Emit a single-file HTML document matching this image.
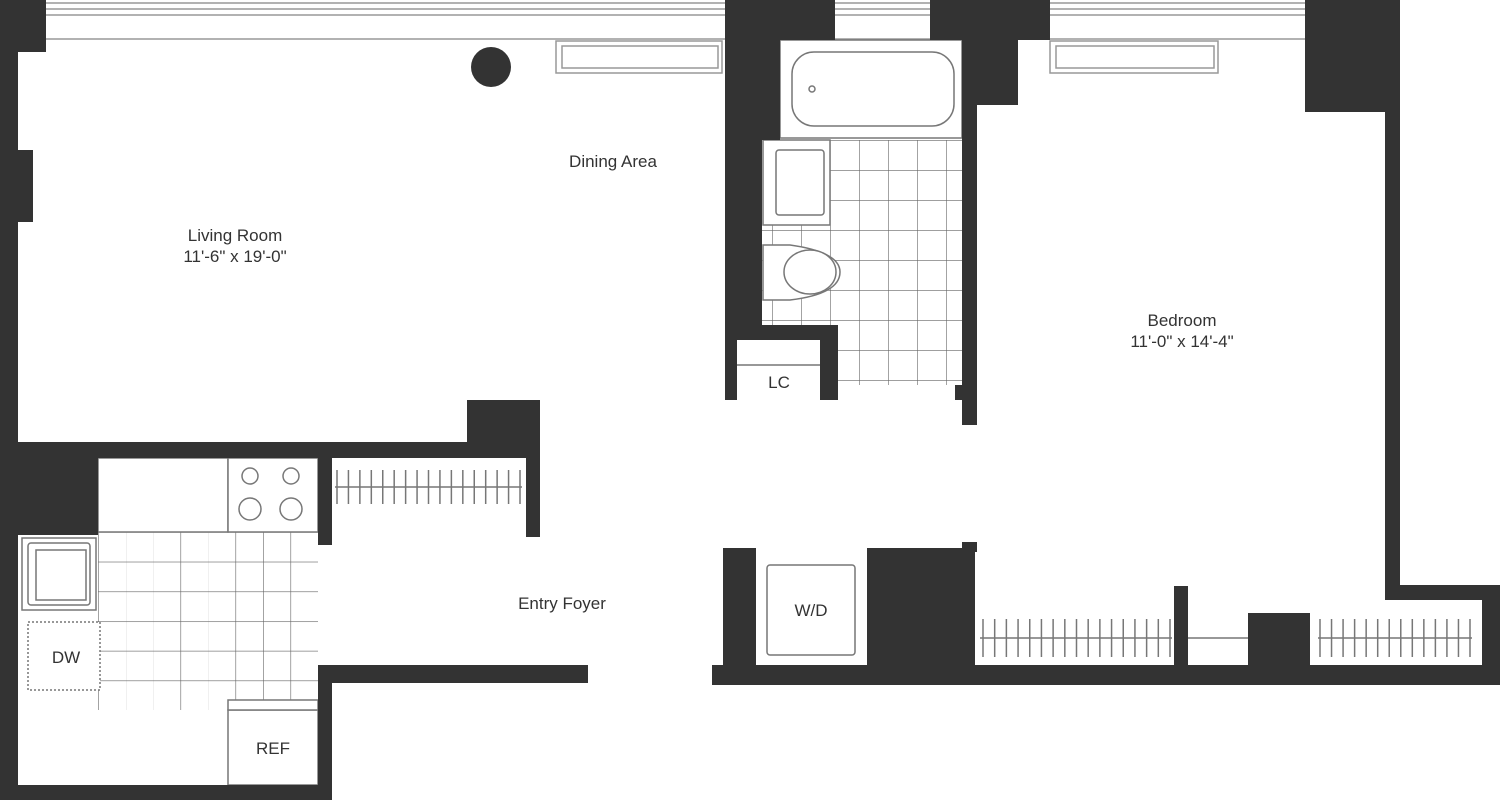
<!DOCTYPE html>
<html><head><meta charset="utf-8"><style>
html,body{margin:0;padding:0;background:#fff}
svg{display:block}
text{font-family:"Liberation Sans",sans-serif;fill:#333;font-size:17px}
</style></head><body>
<svg width="1500" height="803" viewBox="0 0 1500 803" xmlns="http://www.w3.org/2000/svg">
<defs>
<pattern id="tile" x="98" y="532" width="27.5" height="29.7" patternUnits="userSpaceOnUse">
<rect width="27.5" height="29.7" fill="#fff"/>
<path d="M0 0H27.5M0 0V29.7" stroke="#666" stroke-width="1.2" fill="none"/>
</pattern>
<pattern id="btile" x="830" y="140" width="29" height="30" patternUnits="userSpaceOnUse">
<rect width="29" height="30" fill="#fff"/>
<path d="M0 0H29M0 0V30" stroke="#666" stroke-width="1.2" fill="none"/>
</pattern>
</defs>
<g fill="none" stroke="#999" stroke-width="1.5">
<line x1="46" y1="3" x2="727" y2="3"/><line x1="46" y1="9" x2="727" y2="9"/><line x1="46" y1="15" x2="727" y2="15"/><line x1="46" y1="39" x2="727" y2="39"/>
<line x1="835" y1="3" x2="930" y2="3"/><line x1="835" y1="9" x2="930" y2="9"/><line x1="835" y1="15" x2="930" y2="15"/><line x1="835" y1="39" x2="930" y2="39"/>
<line x1="1050" y1="3" x2="1305" y2="3"/><line x1="1050" y1="9" x2="1305" y2="9"/><line x1="1050" y1="15" x2="1305" y2="15"/><line x1="1050" y1="39" x2="1305" y2="39"/>
<rect x="556" y="41" width="166" height="32"/><rect x="562" y="46" width="156" height="22"/>
<rect x="1050" y="41" width="168" height="32"/><rect x="1056" y="46" width="158" height="22"/>
</g>
<circle cx="491" cy="67" r="20" fill="#333"/>
<!-- bath -->
<rect x="830" y="140" width="132" height="245" fill="url(#btile)"/>
<rect x="762" y="225" width="68" height="100" fill="url(#btile)"/>
<g fill="#fff" stroke="#777" stroke-width="1.5">
<rect x="780" y="40" width="182" height="98"/>
<rect x="792" y="52" width="162" height="74" rx="22"/>
<circle cx="812" cy="89" r="3"/>
<rect x="763" y="140" width="67" height="85"/>
<rect x="776" y="150" width="48" height="65" rx="3"/>
<path d="M763 245 L790 245 Q840 252 840 272 Q840 294 790 300 L763 300Z"/>
<ellipse cx="810" cy="272" rx="26" ry="22"/>
<rect x="737" y="340" width="83" height="60" stroke="none"/>
<line x1="737" y1="365" x2="820" y2="365"/>
</g>
<!-- kitchen -->
<rect x="98" y="532" width="220" height="178" fill="url(#tile)"/>
<g fill="#fff" stroke="#777" stroke-width="1.5">
<rect x="98" y="458" width="130" height="74"/>
<rect x="228" y="458" width="90" height="74"/>
<circle cx="250" cy="476" r="8"/><circle cx="291" cy="476" r="8"/>
<circle cx="250" cy="509" r="11"/><circle cx="291" cy="509" r="11"/>
<rect x="22" y="538" width="74" height="72"/><rect x="28" y="543" width="62" height="62" rx="3"/><rect x="36" y="550" width="50" height="50"/>
<rect x="228" y="710" width="90" height="75"/>
<rect x="228" y="700" width="90" height="10"/>
<rect x="28" y="622" width="72" height="68" stroke-dasharray="2 2"/>
<rect x="767" y="565" width="88" height="90" rx="3"/>
</g>
<!-- closet rods -->
<g stroke="#777" stroke-width="1.5">
<line x1="335" y1="487" x2="522" y2="487"/>
<line x1="980" y1="638" x2="1172" y2="638"/>
<line x1="1188" y1="638" x2="1248" y2="638"/>
<line x1="1318" y1="638" x2="1472" y2="638"/>
</g>
<g stroke="#777" stroke-width="1.5" id="ticks"></g>
<g fill="#333">
<rect x="0" y="0" width="18" height="800"/><rect x="0" y="0" width="46" height="52"/><rect x="18" y="150" width="15" height="72"/>
<rect x="0" y="785" width="332" height="15"/>
<rect x="18" y="442" width="522" height="16"/><rect x="467" y="400" width="73" height="58"/><rect x="526" y="400" width="14" height="137"/>
<rect x="18" y="458" width="80" height="77"/>
<rect x="318" y="458" width="14" height="87"/>
<rect x="318" y="665" width="14" height="135"/><rect x="318" y="665" width="270" height="18"/>
<rect x="725" y="0" width="110" height="40"/><rect x="725" y="0" width="55" height="140"/><rect x="725" y="0" width="37" height="340"/><rect x="725" y="0" width="12" height="400"/>
<rect x="737" y="325" width="101" height="15"/><rect x="820" y="325" width="18" height="75"/>
<rect x="930" y="0" width="120" height="40"/><rect x="965" y="0" width="53" height="105"/><rect x="962" y="40" width="15" height="385"/><rect x="955" y="385" width="8" height="15"/>
<rect x="1305" y="0" width="95" height="112"/><rect x="1385" y="0" width="15" height="600"/><rect x="1385" y="585" width="115" height="15"/><rect x="1482" y="585" width="18" height="100"/>
<rect x="712" y="665" width="788" height="20"/>
<rect x="723" y="548" width="33" height="117"/>
<rect x="867" y="548" width="108" height="117"/><rect x="962" y="542" width="15" height="10"/>
<rect x="1174" y="586" width="14" height="79"/>
<rect x="1248" y="613" width="62" height="52"/>
</g>
<text x="235" y="241" text-anchor="middle">Living Room</text>
<text x="235" y="262" text-anchor="middle">11'-6" x 19'-0"</text>
<text x="613" y="167" text-anchor="middle">Dining Area</text>
<text x="1182" y="326" text-anchor="middle">Bedroom</text>
<text x="1182" y="347" text-anchor="middle">11'-0" x 14'-4"</text>
<text x="779" y="388" text-anchor="middle">LC</text>
<text x="562" y="609" text-anchor="middle">Entry Foyer</text>
<text x="811" y="616" text-anchor="middle">W/D</text>
<text x="66" y="663" text-anchor="middle">DW</text>
<text x="273" y="754" text-anchor="middle">REF</text>
</svg>
<script>
var g=document.getElementById('ticks'),ns='http://www.w3.org/2000/svg';
function t(x1,x2,y,h,n){for(var i=0;i<n;i++){var x=x1+(x2-x1)*i/(n-1);var l=document.createElementNS(ns,'line');l.setAttribute('x1',x);l.setAttribute('x2',x);l.setAttribute('y1',y-h);l.setAttribute('y2',y+h);g.appendChild(l);}}
t(337,520,487,17,17);t(983,1170,638,19,17);t(1320,1470,638,19,14);
</script>
</body></html>
